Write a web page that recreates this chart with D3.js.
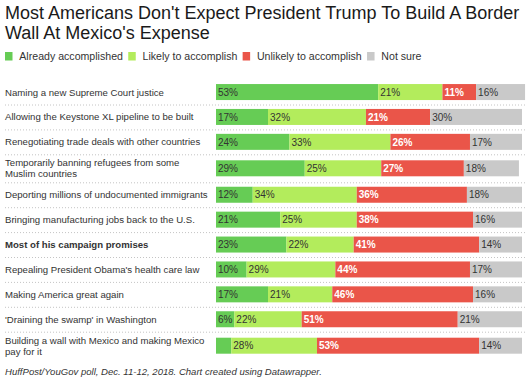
<!DOCTYPE html>
<html><head><meta charset="utf-8">
<script src="https://cdn.jsdelivr.net/npm/d3@7"></script>
<style>
body{margin:0;background:#fff;}
svg{display:block;font-family:"Liberation Sans",Arial,Helvetica,sans-serif;}
</style></head>
<body><svg id="c" width="531" height="381"></svg>
<script>
const title = ["Most Americans Don't Expect President Trump To Build A Border","Wall At Mexico's Expense"];
const seriesNames = ["Already accomplished","Likely to accomplish","Unlikely to accomplish","Not sure"];
const colors = ["#66cc55","#b3ec5c","#ea5549","#c9c9c9"];
const categories = [
  "Naming a new Supreme Court justice",
  "Allowing the Keystone XL pipeline to be built",
  "Renegotiating trade deals with other countries",
  "Temporarily banning refugees from some Muslim countries",
  "Deporting millions of undocumented immigrants",
  "Bringing manufacturing jobs back to the U.S.",
  "Most of his campaign promises",
  "Repealing President Obama's health care law",
  "Making America great again",
  "'Draining the swamp' in Washington",
  "Building a wall with Mexico and making Mexico pay for it"
];
const boldCategory = "Most of his campaign promises";
const already  = [53,17,24,29,12,21,23,10,17,6,5];
const likely   = [21,32,33,25,34,25,22,29,21,22,28];
const unlikely = [11,21,26,27,36,38,41,44,46,51,53];
const notSure  = [16,30,17,18,18,16,14,17,16,21,14];
const footer = "HuffPost/YouGov poll, Dec. 11-12, 2018. Chart created using Datawrapper.";

const svg = d3.select("#c");
svg.append("g").selectAll("text").data(title).join("text")
  .attr("x",5).attr("y",(d,i)=>18.5+i*20.5)
  .attr("font-size",18).attr("fill","#1a1a1a").text(d=>d);

const lg = svg.append("g").attr("transform","translate(5,52)");
let lx = 0;
seriesNames.forEach((s,i)=>{
  const g = lg.append("g").attr("transform",`translate(${lx},0)`);
  g.append("rect").attr("width",7.5).attr("height",8.5).attr("fill",colors[i]);
  const t = g.append("text").attr("x",14.3).attr("y",8.3).attr("font-size",10.6).attr("fill","#333").text(s);
  lx += 14.3 + t.node().getComputedTextLength() + 5.3;
});

const labelFont = 9.6;
const labelMax = 206;
const meas = svg.append("text").attr("font-size",labelFont).attr("visibility","hidden");
function wrap(str, bold){
  meas.attr("font-weight",bold?"bold":"normal");
  const words = str.split(" "); const lines=[]; let cur="";
  words.forEach(w=>{
    const test = cur?cur+" "+w:w;
    meas.text(test);
    if(meas.node().getComputedTextLength()>labelMax && cur){lines.push(cur);cur=w;} else cur=test;
  });
  lines.push(cur); return lines;
}
const rows = categories.map((c,i)=>({
  name:c, bold:c===boldCategory, lines:wrap(c,c===boldCategory),
  vals:[already[i],likely[i],unlikely[i],notSure[i]]
}));
meas.remove();

let yy = 79.6;
rows.forEach(r=>{ r.h = r.lines.length>1?28:24.9; r.top=yy; yy+=r.h; r.cy = r.top + r.h/2; });

const x = d3.scaleLinear().domain([0,100]).range([216,522]);
const barH = 16;

const rg = svg.append("g").selectAll("g").data(rows).join("g");
rg.filter((d,i)=>i>0).append("line")
  .attr("x1",5).attr("x2",526).attr("y1",d=>d.top+0.5).attr("y2",d=>d.top+0.5)
  .attr("stroke","#c4c4c4").attr("stroke-width",1).attr("stroke-dasharray","1,2");
rg.each(function(r){
  const g = d3.select(this);
  const n = r.lines.length;
  r.lines.forEach((l,j)=>{
    g.append("text").attr("x",5)
      .attr("y", r.cy + 3.5 + (j-(n-1)/2)*10.8)
      .attr("font-size",labelFont).attr("fill","#333")
      .attr("font-weight",r.bold?"bold":"normal").text(l);
  });
  let cum = 0;
  r.vals.forEach((v,k)=>{
    const x0 = x(cum), x1 = x(cum+v); cum+=v;
    g.append("rect").attr("x",x0).attr("y",r.cy-barH/2).attr("width",x1-x0).attr("height",barH).attr("fill",colors[k]);
    const t = g.append("text").attr("x",x0+2).attr("y",r.cy+3.7)
      .attr("font-size",10)
      .attr("fill",k===2?"#fff":"#333")
      .attr("font-weight",k===2?"bold":"normal")
      .text(v+"%");
    if(t.node().getComputedTextLength()+2.5 > x1-x0) t.remove();
  });
});

svg.append("text").attr("x",5).attr("y",375).attr("font-size",9.55).attr("font-style","italic")
  .attr("fill","#333").text(footer);
</script></body></html>
